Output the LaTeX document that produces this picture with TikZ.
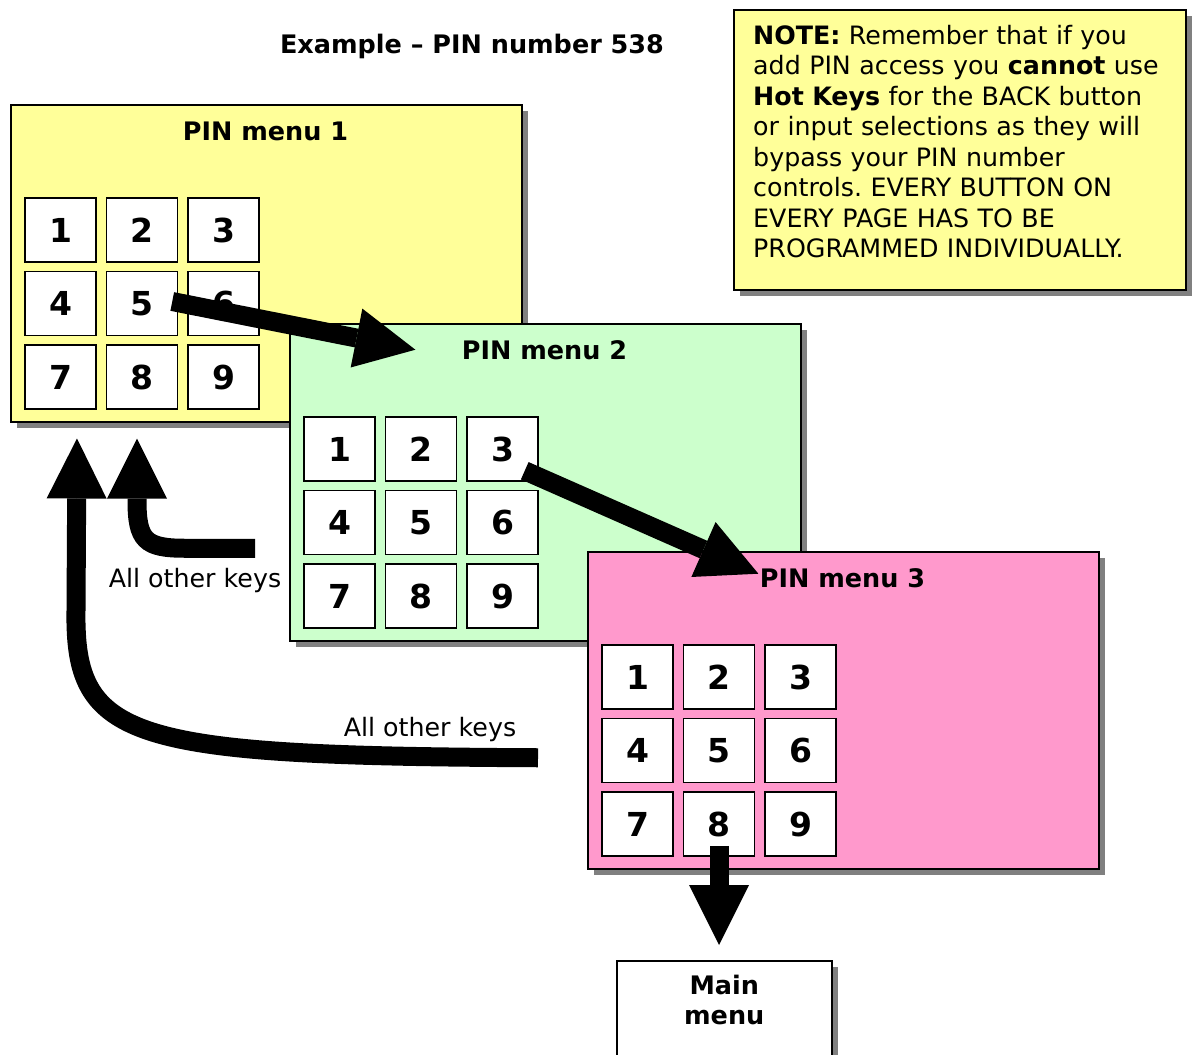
\documentclass[tikz,border=0pt]{standalone}
\usepackage{fontspec}
\setmainfont{DejaVu Sans}
\usetikzlibrary{arrows.meta,shadows}

\definecolor{menuyellow}{HTML}{FFFF99}
\definecolor{menugreen}{HTML}{CCFFCC}
\definecolor{menupink}{HTML}{FF99CC}

\tikzset{
  boxshadow/.style={drop shadow={shadow xshift=6pt,shadow yshift=-6pt,fill=black!50,opacity=1}},
  menubox/.style={draw,line width=1.5pt,anchor=north west,inner sep=0pt,
    minimum width=511pt,minimum height=317pt,boxshadow},
  keybox/.style={draw,line width=1.5pt,fill=white,inner sep=0pt,
    minimum width=71pt,minimum height=64pt,font=\fontsize{33}{33}\selectfont\bfseries},
  menutitle/.style={anchor=base,font=\fontsize{25.5}{25.5}\selectfont\bfseries},
  plaintext/.style={anchor=base,font=\fontsize{25.3}{25.3}\selectfont},
  blockarrow/.style={line width=19pt,-{Triangle[length=60pt,width=60pt,line width=0pt]}},
}

\begin{document}
\frenchspacing
\begin{tikzpicture}[x=1pt,y=-1pt]
   \fill[white] (0,0) rectangle (1192,1055);
   \useasboundingbox (0,0) rectangle (1192,1055);

   \node[menutitle] (heading) at (472,53) {Example -- PIN number 538};

   \node[draw,line width=1.5pt,fill=menuyellow,anchor=north west,boxshadow,
         minimum width=452pt,minimum height=280pt] (note) at (733,9) {};
   \node[anchor=north west,inner sep=0pt,text width=425pt,align=left,
         font=\fontsize{25.3}{30.5}\selectfont] (notetext) at ([xshift=20pt,yshift=-16pt]note.north west)
     {\textbf{NOTE:} Remember that if you\\
      add PIN access you \textbf{cannot} use\\
      \textbf{Hot Keys} for the BACK button\\
      or input selections as they will\\
      bypass your PIN number\\
      controls. EVERY BUTTON ON\\
      EVERY PAGE HAS TO BE\\
      PROGRAMMED INDIVIDUALLY.};

   % the three PIN menus with their keypads
   \foreach \m/\x/\y/\col in {1/10/104/menuyellow, 2/289/323/menugreen, 3/587/551/menupink} {
     \begin{scope}[shift={(\x,\y)}]
       \node[menubox,fill=\col] (menu\m) at (0,0) {};
       \node[menutitle] (title\m) at (255.5,36) {PIN menu \m};
       \foreach \k in {1,...,9} {
         \pgfmathtruncatemacro{\c}{mod(\k-1,3)}
         \pgfmathtruncatemacro{\r}{div(\k-1,3)}
         \node[keybox] (m\m-\k) at (50.5+81.5*\c,126+73.5*\r) {\k};
       }
     \end{scope}
   }

   \node[draw,line width=1.5pt,fill=white,anchor=north west,boxshadow,
         minimum width=215pt,minimum height=130pt] (main) at (616,960) {};
   \node[anchor=north,align=center,font=\fontsize{25.5}{30}\selectfont\bfseries]
     (maintext) at ([yshift=-12pt]main.north) {Main\\menu};

   % correct keys
   \draw[blockarrow] ([xshift=-6pt,yshift=2pt]m1-5.east) -- ([xshift=-43pt]title2.west);
   \draw[blockarrow] ([xshift=-14pt,yshift=11pt]m2-3.south east) -- ([xshift=2pt,yshift=4pt]title3.west);
   \draw[blockarrow] ([yshift=11pt]m3-8.south) -- ([yshift=15pt]m3-8.south |- main.north);

   % wrong keys go back to the start
   \draw[blockarrow] ([xshift=-34pt,yshift=-66pt]menu2.west) -- ++(-70,0)
      .. controls +(-40,0) and +(0,40) .. ++(-48,-48)
      -- ([xshift=127pt,yshift=-16pt]menu1.south west);
   \draw[blockarrow] ([xshift=-49pt,yshift=-47.5pt]menu3.west)
      .. controls +(-408,-2) and +(-2,130) .. ++(-462,-147)
      -- ([xshift=67pt,yshift=-16pt]menu1.south west);

   \node[plaintext] (other1) at (195,587) {All other keys};
   \node[plaintext] (other2) at (430,736) {All other keys};
\end{tikzpicture}
\end{document}
